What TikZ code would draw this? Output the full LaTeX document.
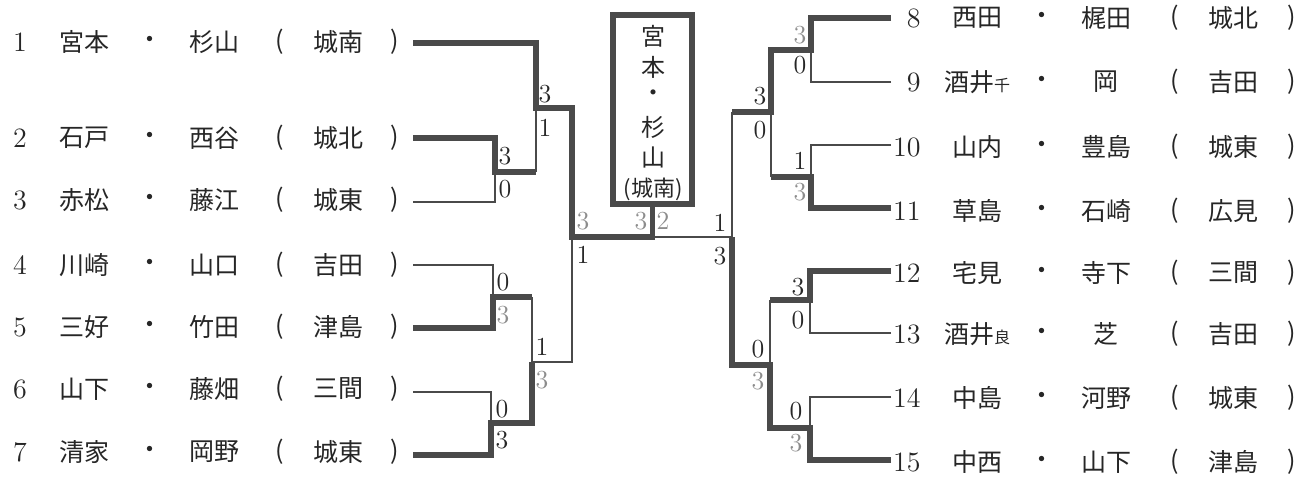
\documentclass[tikz,border=0pt]{standalone}
\usepackage{fontspec}
\newfontfamily\cjk{Noto Sans CJK JP}
\definecolor{ink}{HTML}{262626}
\definecolor{ln}{HTML}{4A4A4A}
\definecolor{lg}{HTML}{8C8C8C}
\tikzset{
  thk/.style={draw=ln, line width=2.7pt, line join=miter, line cap=butt},
  thn/.style={draw=ln, line width=0.85pt, line join=miter},
  jp/.style={font=\cjk\fontsize{12.5}{14}\selectfont, text=ink, inner sep=0pt},
  jpb/.style={font=\cjk\fontsize{12}{14}\selectfont, text=ink, inner sep=0pt},
  rn/.style={font=\fontsize{14}{15}\selectfont, text=ink, inner sep=0pt},
  sc/.style={font=\fontsize{13}{14}\selectfont, text=ink, inner sep=0pt},
  scg/.style={sc, text=lg},
  champbox/.style={draw=ln, line width=3pt, minimum width=39.5pt, minimum height=94.5pt, inner sep=0pt},
}
\newcommand\smk[1]{{\fontsize{8}{8}\selectfont #1}}
% id, text y, line y, num, name1, name2, school
\newcommand\lrow[7]{%
  \node[rn] (n#1) at (20,#2) {#4};
  \node[jp] (a#1) at (84,#2) {#5};
  \node[jp] (d#1) at (150,#2) {・};
  \node[jp] (b#1) at (214,#2) {#6};
  \node[jp] (p#1) at (280,#2) {(};
  \node[jp] (s#1) at (338,#2) {#7};
  \node[jp] (q#1) at (395,#2) {)};
  \coordinate (L#1) at (413,#3);
}
\newcommand\rrow[7]{%
  \node[rn, anchor=east] (n#1) at (921,#2) {#4};
  \node[jp] (a#1) at (977,#2) {#5};
  \node[jp] (d#1) at (1042,#2) {・};
  \node[jp] (b#1) at (1106,#2) {#6};
  \node[jp] (p#1) at (1175,#2) {(};
  \node[jp] (s#1) at (1233,#2) {#7};
  \node[jp] (q#1) at (1292,#2) {)};
  \coordinate (R#1) at (891,#3);
}
\begin{document}
\begin{tikzpicture}[x=0.5pt, y=-0.5pt]
\useasboundingbox[fill=white] (0,0) rectangle (1311,482);

% left entries
\lrow{1}{42}{43}{1}{宮本}{杉山}{城南}
\lrow{2}{138}{138}{2}{石戸}{西谷}{城北}
\lrow{3}{200}{202}{3}{赤松}{藤江}{城東}
\lrow{4}{265}{265}{4}{川崎}{山口}{吉田}
\lrow{5}{327}{328}{5}{三好}{竹田}{津島}
\lrow{6}{389}{392}{6}{山下}{藤畑}{三間}
\lrow{7}{452}{455}{7}{清家}{岡野}{城東}

% right entries
\rrow{8}{18}{18}{8}{西田}{梶田}{城北}
\rrow{9}{82}{82}{9}{酒井\smk{千}}{岡}{吉田}
\rrow{10}{147}{145}{10}{山内}{豊島}{城東}
\rrow{11}{211}{208}{11}{草島}{石崎}{広見}
\rrow{12}{273}{271}{12}{宅見}{寺下}{三間}
\rrow{13}{334}{333}{13}{酒井\smk{良}}{芝}{吉田}
\rrow{14}{398}{397}{14}{中島}{河野}{城東}
\rrow{15}{462}{460}{15}{中西}{山下}{津島}

% champion box
\node[champbox] (champ) at (652.5,109.5) {};
\node[jpb] (c1) at (653,36) {宮};
\node[jpb] (c2) at (653,67) {本};
\node[jpb] (c3) at (653,96) {・};
\node[jpb] (c4) at (653,127) {杉};
\node[jpb] (c5) at (653,157) {山};
\node[font=\cjk\fontsize{11}{12}\selectfont, text=ink, inner sep=0pt] (c6) at (653,189) {(城南)};

% left junctions
\coordinate (J23) at (495,172);
\coordinate (JAb) at (536,172);
\coordinate (JA) at (536,108);
\coordinate (J45) at (493,297);
\coordinate (J45r) at (532,297);
\coordinate (J67) at (491,423);
\coordinate (J67r) at (532,423);
\coordinate (JB) at (532,362);
\coordinate (JBr) at (572,362);
\coordinate (JL) at (572,237);
\coordinate (JC) at (652.5,237);

% right junctions
\coordinate (K89) at (811,50);
\coordinate (K89l) at (771,50);
\coordinate (K1011) at (811,177);
\coordinate (K1011l) at (771,177);
\coordinate (KA) at (771,112);
\coordinate (KAl) at (732,112);
\coordinate (K1213) at (810,300);
\coordinate (K1213l) at (770,300);
\coordinate (K1415) at (810,428);
\coordinate (K1415l) at (770,428);
\coordinate (KB) at (770,365);
\coordinate (KBl) at (732,365);
\coordinate (KR) at (732,237);

% left bracket
\draw[thn] (L3) -| (J23);
\draw[thn] (JAb) -- (JA);
\draw[thk] (L2) -| (J23) -- (JAb);
\draw[thn] (L4) -| (J45);
\draw[thn] (J45r) -- (JB);
\draw[thk] (L5) -| (J45) -- (J45r);
\draw[thn] (L6) -| (J67);
\draw[thn] (JB) -- (JBr) -- (JL);
\draw[thk] (L7) -| (J67) -- (J67r) -- (JB);
\draw[thk] (L1) -| (JA) -| (JL) -- (JC) -- (champ.south);

% right bracket
\draw[thn] (R9) -| (K89);
\draw[thn] (KAl) -- (KR);
\draw[thk] (R8) -| (K89) -- (K89l) -- (KA) -- (KAl);
\draw[thn] (R10) -| (K1011);
\draw[thn] (K1011l) -- (KA);
\draw[thk] (R11) -| (K1011) -- (K1011l);
\draw[thn] (R13) -| (K1213);
\draw[thn] (K1213l) -- (KB);
\draw[thk] (R12) -| (K1213) -- (K1213l);
\draw[thn] (R14) -| (K1415);
\draw[thn] (KR) -- (JC);
\draw[thk] (R15) -| (K1415) -- (K1415l) -- (KB) -- (KBl) -- (KR);

% scores left
\node[sc] (s23a) at (505,156) {3};
\node[sc] (s23b) at (505,189) {0};
\node[sc] (sAa) at (545,94) {3};
\node[sc] (sAb) at (545,128) {1};
\node[sc] (s45a) at (503,282) {0};
\node[scg] (s45b) at (503,315) {3};
\node[sc] (s67a) at (502,409) {0};
\node[sc] (s67b) at (502,440) {3};
\node[sc] (sBa) at (542,347) {1};
\node[scg] (sBb) at (542,380) {3};
\node[scg] (sLa) at (583,221) {3};
\node[sc] (sLb) at (583,255) {1};
\node[scg] (sCa) at (641,221) {3};
\node[scg] (sCb) at (663,221) {2};
% scores right
\node[sc] (sRa) at (720,223) {1};
\node[sc] (sRb) at (720,256) {3};
\node[sc] (sKAa) at (760,96) {3};
\node[sc] (sKAb) at (760,130) {0};
\node[scg] (s89a) at (800,35) {3};
\node[sc] (s89b) at (800,65) {0};
\node[sc] (s1011a) at (800,161) {1};
\node[scg] (s1011b) at (800,192) {3};
\node[sc] (s1213a) at (798,287) {3};
\node[sc] (s1213b) at (798,320) {0};
\node[sc] (sKBa) at (758,349) {0};
\node[scg] (sKBb) at (758,381) {3};
\node[sc] (s1415a) at (796,411) {0};
\node[scg] (s1415b) at (796,443) {3};
\end{tikzpicture}
\end{document}
